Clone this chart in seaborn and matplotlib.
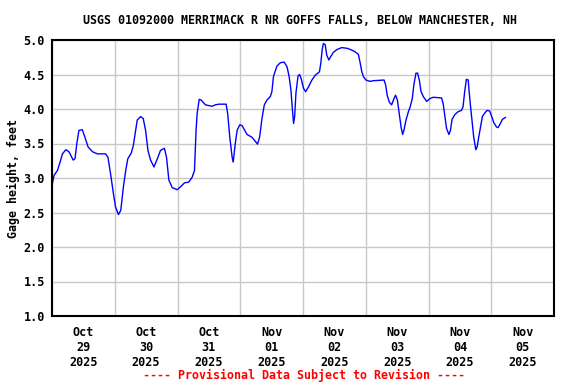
import matplotlib
matplotlib.use("Agg")
import matplotlib.pyplot as plt
import matplotlib.dates as mdates
from matplotlib.ticker import FormatStrFormatter
import numpy as np
import pandas as pd
import seaborn as sns

# ---- data (hours after 2025-10-29 00:00, gage height in feet) ----
start_time = "2025-10-29 00:00"
hours = [0.0, 0.8, 2.1, 3.1, 4.0, 5.3, 6.5, 8.1, 8.8, 9.5, 10.3, 11.6, 12.6, 13.8,
         15.5, 17.4, 20.5, 21.4, 22.4, 23.5, 24.3, 25.4, 26.3, 27.3, 28.2, 29.0,
         30.3, 31.1, 32.0, 32.6, 33.9, 34.9, 35.8, 36.7, 37.7, 39.0, 40.3, 41.5,
         43.0, 43.8, 44.7, 46.0, 47.9, 49.1, 50.7, 52.3, 53.6, 54.5, 55.1, 55.5,
         56.3, 57.0, 58.7, 61.2, 62.5, 63.8, 66.6, 67.2, 68.0, 68.9, 69.3, 70.1,
         70.8, 71.8, 72.7, 74.6, 76.5, 77.8, 78.6, 79.4, 80.3, 81.2, 82.2, 83.5,
         84.1, 84.7, 86.0, 87.3, 88.8, 89.9, 90.7, 91.4, 91.9, 92.4, 92.8, 93.3,
         94.1, 94.7, 95.3, 96.2, 97.0, 98.1, 99.4, 100.7, 102.3, 102.8, 103.3,
         103.8, 104.5, 105.1, 105.9, 106.6, 107.6, 108.9, 110.8, 112.8, 114.3,
         115.9, 117.2, 117.8, 118.5, 119.1, 120.1, 121.6, 122.9, 127.0, 127.6,
         128.2, 129.0, 129.9, 130.8, 131.4, 132.1, 132.8, 133.5, 134.1, 134.6,
         135.4, 136.3, 136.9, 137.8, 138.4, 139.2, 139.8, 140.5, 141.1, 142.0,
         143.3, 144.5, 145.8, 149.0, 149.6, 150.3, 150.9, 151.8, 152.4, 153.0,
         154.1, 155.3, 156.6, 157.2, 157.9, 158.5, 159.2, 159.5, 160.1, 160.7,
         161.3, 162.1, 162.6, 163.2, 163.9, 164.6, 165.5, 166.4, 167.4, 168.1,
         169.0, 170.0, 170.6, 171.2, 172.3, 173.5]
gage_height = [2.89, 3.04, 3.11, 3.23, 3.35, 3.41, 3.38, 3.26, 3.28, 3.50, 3.69, 3.70,
               3.59, 3.45, 3.38, 3.35, 3.35, 3.30, 3.06, 2.77, 2.58, 2.47, 2.53, 2.87,
               3.11, 3.28, 3.36, 3.47, 3.69, 3.84, 3.89, 3.86, 3.69, 3.40, 3.26, 3.16,
               3.28, 3.40, 3.43, 3.30, 2.97, 2.86, 2.83, 2.87, 2.93, 2.94, 3.01, 3.11,
               3.69, 3.93, 4.14, 4.13, 4.06, 4.04, 4.06, 4.07, 4.07, 3.93, 3.59, 3.30,
               3.23, 3.50, 3.69, 3.77, 3.76, 3.63, 3.59, 3.53, 3.49, 3.59, 3.86, 4.06,
               4.13, 4.18, 4.25, 4.47, 4.62, 4.67, 4.68, 4.61, 4.47, 4.27, 4.01, 3.79,
               3.89, 4.23, 4.48, 4.50, 4.44, 4.30, 4.25, 4.32, 4.42, 4.49, 4.54, 4.66,
               4.85, 4.95, 4.93, 4.78, 4.71, 4.76, 4.82, 4.86, 4.89, 4.88, 4.86, 4.83,
               4.79, 4.68, 4.54, 4.47, 4.42, 4.40, 4.41, 4.42, 4.35, 4.20, 4.10, 4.06,
               4.15, 4.20, 4.13, 3.93, 3.74, 3.63, 3.69, 3.84, 3.96, 4.02, 4.15, 4.35,
               4.52, 4.52, 4.42, 4.26, 4.18, 4.11, 4.15, 4.17, 4.16, 4.08, 3.89, 3.72,
               3.63, 3.69, 3.85, 3.92, 3.96, 3.98, 4.03, 4.27, 4.43, 4.42, 4.27, 4.03,
               3.81, 3.59, 3.41, 3.45, 3.59, 3.74, 3.89, 3.94, 3.98, 3.97, 3.90, 3.80,
               3.74, 3.73, 3.77, 3.85, 3.88]
y_ticks = [1.0, 1.5, 2.0, 2.5, 3.0, 3.5, 4.0, 4.5, 5.0]
title = "USGS 01092000 MERRIMACK R NR GOFFS FALLS, BELOW MANCHESTER, NH"
ylabel = "Gage height, feet"
footer = "---- Provisional Data Subject to Revision ----"

df = pd.DataFrame({
    "time": pd.Timestamp(start_time) + pd.to_timedelta(hours, unit="h"),
    "height": gage_height,
})

sns.set_style("white")
plt.rcParams["font.family"] = ["DejaVu Sans Mono", "DejaVu Sans"]
plt.rcParams["font.weight"] = "bold"
for key in ["text.color", "axes.labelcolor", "xtick.color", "ytick.color"]:
    plt.rcParams[key] = "black"

fig = plt.figure(figsize=(5.76, 3.84), dpi=100)
ax = fig.add_axes([52 / 576, 1 - 316 / 384, (554 - 52) / 576, (316 - 40) / 384])

sns.lineplot(data=df, x="time", y="height", ax=ax, color="#0000ff", linewidth=1.0)

ax.set_xlim(pd.Timestamp("2025-10-29 00:00"), pd.Timestamp("2025-11-06 00:00"))
ax.set_ylim(1.0, 5.0)
ax.set_yticks(y_ticks)
ax.yaxis.set_major_formatter(FormatStrFormatter("%.1f"))

ax.xaxis.set_major_locator(mdates.HourLocator(byhour=[12]))
ax.xaxis.set_major_formatter(mdates.DateFormatter("%b\n%d\n%Y"))
ax.xaxis.set_minor_locator(mdates.DayLocator())

ax.grid(False)
ax.grid(True, axis="y", which="major", color="#c8c8c8", linewidth=1.0)
ax.grid(True, axis="x", which="minor", color="#c8c8c8", linewidth=1.0)
ax.set_axisbelow(True)

ax.tick_params(axis="both", which="both", length=0)
ax.tick_params(axis="x", which="major", pad=7, labelsize=8.5, colors="black")
ax.tick_params(axis="y", which="major", pad=5, labelsize=8.5, colors="black")
for lab in ax.get_xticklabels() + ax.get_yticklabels():
    lab.set_fontweight("bold")

for sp in ax.spines.values():
    sp.set_visible(True)
    sp.set_color("black")
    sp.set_linewidth(1.5)

ax.set_xlabel("")
ax.set_ylabel(ylabel, fontsize=8.4, fontweight="bold", labelpad=3, color="black")

fig.text(300 / 576, 1 - 20 / 384, title, ha="center", va="center",
         fontsize=8.4, fontweight="bold", color="black")
fig.text(304 / 576, 1 - 375 / 384, footer, ha="center", va="center",
         fontsize=8.4, fontweight="bold", color="red")

fig.savefig("out.png", dpi=100)
